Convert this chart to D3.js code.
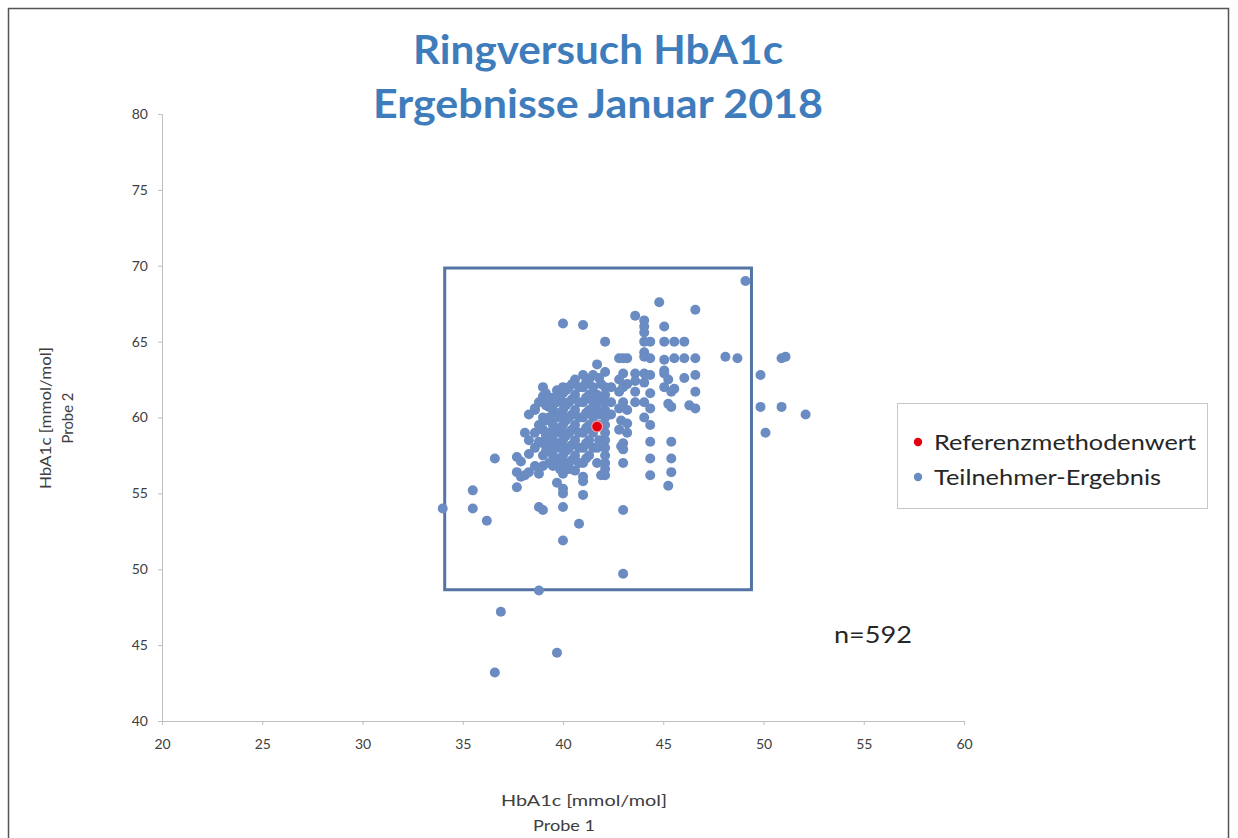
<!DOCTYPE html>
<html>
<head>
<meta charset="utf-8">
<script src="https://cdn.jsdelivr.net/npm/d3@7"></script>
<style>
  html, body { margin: 0; padding: 0; background: #fff; }
  svg { display: block; }
  .tick text { font-family: Lato, "Open Sans", sans-serif; font-size: 14px; fill: #404040; }
  .tick line, .domain { stroke: #bfbfbf; }
</style>
</head>
<body>
<div id="chart"></div>
<script>
// ---- data ----
const titleLines = ['Ringversuch HbA1c', 'Ergebnisse Januar 2018'];
const xTicks = [20, 25, 30, 35, 40, 45, 50, 55, 60];
const yTicks = [40, 45, 50, 55, 60, 65, 70, 75, 80];
const referenz = [41.7, 59.4];
const boxX = [34.1, 49.4];   // ±18 % um den Referenzwert
const boxY = [48.65, 69.85];
const nLabel = 'n=592';
const legendItems = ['Referenzmethodenwert', 'Teilnehmer-Ergebnis'];

// Teilnehmer-Ergebnisse, nach Probe 1 gruppiert: [Probe 1, [Probe 2 ...]]
const teilnehmerSpalten = [
  [34.0, [54.0]],
  [35.5, [55.2, 54.0]],
  [36.2, [53.2]],
  [36.6, [57.3, 43.2]],
  [36.9, [47.2]],
  [37.7, [57.4, 56.4, 55.4]],
  [37.9, [57.1, 56.1]],
  [38.1, [59.0, 56.2]],
  [38.3, [60.2, 56.4, 57.6, 58.5]],
  [38.6, [60.5, 56.8, 58.0, 59.0, 60.6]],
  [38.8, [59.5, 54.1, 48.6, 56.3, 58.4, 61.0]],
  [39.0, [60.0, 53.9, 56.8, 57.5, 58.3, 59.2, 61.4, 62.0]],
  [39.15, [57.8, 58.8, 59.8, 60.8, 61.6]],
  [39.3, [57.0, 58.0, 59.0, 60.0, 61.0, 58.5, 60.7]],
  [39.5, [56.8, 57.5, 58.5, 59.5, 60.5, 61.3, 60.0]],
  [39.7, [44.5, 55.7, 57.0, 58.0, 59.0, 60.0, 61.0, 61.8]],
  [39.85, [57.3, 58.3, 59.3, 60.3, 61.3, 56.6]],
  [40.0, [51.9, 54.1, 55.0, 55.3, 56.3, 57.0, 57.5, 58.0, 58.5, 59.0, 59.5, 60.0, 60.5, 61.0, 61.6, 62.0, 66.2]],
  [40.15, [57.8, 58.8, 59.8, 60.8, 61.8]],
  [40.3, [57.0, 58.0, 59.0, 60.0, 61.0, 62.0, 56.6]],
  [40.45, [57.2, 58.2, 59.2, 60.2, 61.2, 62.2]],
  [40.6, [56.5, 57.5, 58.5, 59.5, 60.5, 61.5, 62.5]],
  [40.8, [53.0, 57.0, 58.0, 59.0, 60.0, 61.0, 62.0]],
  [41.0, [66.1, 54.9, 55.8, 56.1, 57.0, 58.0, 59.0, 60.0, 61.0, 62.0, 62.8]],
  [41.15, [57.3, 58.3, 59.3, 60.3, 61.3, 62.3]],
  [41.3, [57.5, 58.5, 59.5, 60.5, 61.5, 62.5]],
  [41.5, [58.0, 59.0, 60.0, 61.0, 62.0, 62.8]],
  [41.7, [63.5, 57.0, 58.0, 60.5, 61.5]],
  [41.8, [58.5, 59.5, 60.2, 61.0, 62.6]],
  [41.9, [56.2, 62.2]],
  [42.1, [65.0, 63.0, 62.0, 61.5, 61.0, 60.5, 60.0, 59.5, 59.0, 58.5, 58.0, 57.5, 57.0, 56.6, 56.2]],
  [42.4, [62.0, 61.0, 60.2]],
  [42.8, [63.9, 62.5, 61.7, 60.6, 59.2]],
  [42.9, [58.1, 59.8]],
  [43.0, [63.9, 62.9, 62.0, 61.0, 57.9, 58.3, 57.0, 53.9, 49.7]],
  [43.2, [63.9, 62.2, 59.6, 59.0, 60.5]],
  [43.6, [66.7, 62.9, 62.4, 61.7, 61.0]],
  [44.05, [66.4, 66.0, 65.6, 65.0, 64.0, 64.3, 62.9, 62.3, 61.0, 60.0]],
  [44.35, [65.0, 63.9, 62.8, 61.6, 60.6, 59.5, 58.4, 57.3, 56.2]],
  [44.8, [67.6]],
  [45.05, [66.0, 65.0, 63.8, 63.1, 62.9, 62.0]],
  [45.25, [62.5, 60.9, 55.5]],
  [45.4, [58.4, 57.3, 56.4, 61.7, 60.7]],
  [45.55, [65.0, 63.9, 61.9]],
  [46.05, [65.0, 63.9, 62.6]],
  [46.3, [60.8]],
  [46.6, [67.1, 63.9, 62.8, 61.7, 60.6]],
  [48.1, [64.0]],
  [48.7, [63.9]],
  [49.1, [69.0]],
  [49.85, [62.8, 60.7]],
  [50.1, [59.0]],
  [50.9, [63.9, 60.7]],
  [51.1, [64.0]],
  [52.1, [60.2]]
];

// ---- layout ----
const W = 1238, H = 838;
const x = d3.scaleLinear().domain([20, 60]).range([162, 964]);
const y = d3.scaleLinear().domain([40, 80]).range([721, 114]);
const blue = '#6a8cc3', red = '#e3000f', titleBlue = '#3f7cbc';
const FONT = 'Lato, "Open Sans", sans-serif';

const svg = d3.select('#chart').append('svg').attr('width', W).attr('height', H);

// outer frame
svg.append('rect').attr('x', 8.5).attr('y', 8.5).attr('width', 1220).attr('height', 850)
  .attr('fill', 'none').attr('stroke', '#555').attr('stroke-width', 1.5);

// title (source image is a little stretched sideways, hence textLength)
const titleWidths = [370, 450];
svg.append('g').selectAll('text').data(titleLines).join('text')
  .attr('x', 598).attr('y', (d, i) => 64 + i * 54)
  .attr('text-anchor', 'middle')
  .attr('textLength', (d, i) => titleWidths[i]).attr('lengthAdjust', 'spacingAndGlyphs')
  .style('font-family', FONT)
  .style('font-weight', 700).style('font-size', '40px')
  .attr('fill', titleBlue)
  .text(d => d);

// axes
svg.append('g').attr('transform', `translate(${x(20)},0)`)
  .call(d3.axisLeft(y).tickValues(yTicks).tickSize(4).tickPadding(10));
svg.append('g').attr('transform', `translate(0,${y(40)})`)
  .call(d3.axisBottom(x).tickValues(xTicks).tickSize(4).tickPadding(14));

// axis titles
function axisText(sel, len) {
  return sel.attr('text-anchor', 'middle')
    .attr('textLength', len).attr('lengthAdjust', 'spacingAndGlyphs')
    .style('font-family', FONT).style('font-size', '16px').attr('fill', '#404040');
}
axisText(svg.append('text').attr('x', 584).attr('y', 806), 166).text('HbA1c [mmol/mol]');
axisText(svg.append('text').attr('x', 564).attr('y', 831), 62).text('Probe 1');
axisText(svg.append('text').attr('transform', `translate(51,418) rotate(-90)`), 142).text('HbA1c [mmol/mol]');
axisText(svg.append('text').attr('transform', `translate(73,418) rotate(-90)`), 51).text('Probe 2');

// ±18 % box
svg.append('rect')
  .attr('x', x(boxX[0])).attr('y', y(boxY[1]))
  .attr('width', x(boxX[1]) - x(boxX[0])).attr('height', y(boxY[0]) - y(boxY[1]))
  .attr('fill', 'none').attr('stroke', '#5574a6').attr('stroke-width', 3);

// points
const teilnehmer = teilnehmerSpalten.flatMap(([p1, ys]) => ys.map(p2 => [p1, p2]));
svg.append('g').selectAll('circle').data(teilnehmer).join('circle')
  .attr('cx', d => x(d[0])).attr('cy', d => y(d[1])).attr('r', 5)
  .attr('fill', blue);
svg.append('circle').attr('cx', x(referenz[0])).attr('cy', y(referenz[1])).attr('r', 5.4)
  .attr('fill', red).attr('stroke', '#f3a0a6').attr('stroke-width', 1.2);

// legend
const lg = svg.append('g').attr('transform', 'translate(897,403)');
lg.append('rect').attr('x', 0.5).attr('y', 0.5).attr('width', 310).attr('height', 105)
  .attr('fill', '#fff').attr('stroke', '#c8c8c8');
const legendWidths = [262, 227];
legendItems.forEach((t, i) => {
  const row = lg.append('g').attr('transform', `translate(0,${39 + i * 35})`);
  row.append('circle').attr('cx', 21).attr('cy', 0).attr('r', 4.2).attr('fill', i === 0 ? red : blue);
  row.append('text').attr('x', 37).attr('y', 8)
    .attr('textLength', legendWidths[i]).attr('lengthAdjust', 'spacingAndGlyphs')
    .style('font-family', FONT).style('font-size', '22px')
    .attr('fill', '#262626').text(t);
});

// n
svg.append('text').attr('x', 834).attr('y', 643)
  .attr('textLength', 78).attr('lengthAdjust', 'spacingAndGlyphs')
  .style('font-family', FONT).style('font-size', '24px')
  .attr('fill', '#262626').text(nLabel);
</script>
</body>
</html>
